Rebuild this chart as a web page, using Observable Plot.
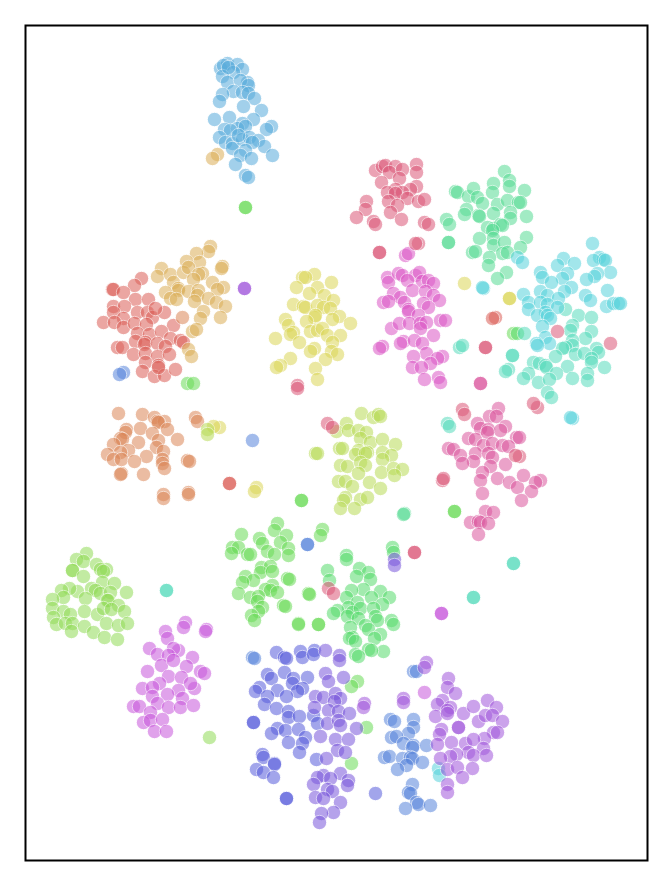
<!DOCTYPE html>
<html>
<head>
<meta charset="utf-8">
<style>html,body{margin:0;padding:0;background:#fff}svg{display:block}</style>
<script src="https://cdn.jsdelivr.net/npm/d3@7"></script>
<script src="https://cdn.jsdelivr.net/npm/@observablehq/plot@0.6"></script>
</head>
<body>
<div id="chart"></div>
<script>
const c00 = [[141,278],[134,285],[112,289],[113,289],[123,292],[135,299],[148,299],[113,306],[124,306],[113,312],[123,318],[103,322],[114,322],[123,327],[137,312],[147,312],[152,317],[164,312],[155,308],[134,323],[146,324],[173,325],[137,333],[149,334],[161,331],[135,341],[145,342],[144,344],[157,343],[170,338],[180,340],[183,342],[165,346],[117,347],[122,347],[133,354],[145,353],[157,356],[169,354],[145,362],[158,365],[142,371],[154,376],[164,375],[175,369],[158,367],[229,483],[229,483],[495,317],[492,318]];
const c01 = [[118,413],[142,414],[154,417],[164,421],[157,421],[158,422],[126,429],[125,432],[140,428],[167,429],[152,433],[120,438],[122,439],[138,442],[177,439],[158,440],[113,444],[156,447],[128,450],[120,452],[107,454],[163,451],[146,456],[113,459],[121,459],[134,461],[162,459],[162,463],[164,468],[187,460],[189,461],[121,473],[120,474],[143,474],[163,494],[163,498],[188,492],[188,494],[195,417],[197,421],[182,317]];
const c02 = [[210,246],[208,251],[196,253],[199,262],[186,261],[161,268],[157,276],[170,274],[183,272],[188,267],[222,266],[221,268],[202,273],[198,274],[193,279],[173,282],[212,282],[223,287],[217,289],[178,288],[178,290],[188,291],[198,290],[165,292],[170,298],[176,299],[197,295],[194,301],[208,298],[216,302],[225,306],[203,311],[200,318],[220,317],[192,331],[196,329],[188,349],[191,356],[217,154],[212,158]];
const c03 = [[314,274],[302,277],[305,277],[331,282],[296,287],[317,287],[309,293],[324,295],[333,300],[293,304],[303,306],[305,307],[317,305],[323,307],[330,308],[339,316],[314,317],[315,315],[306,321],[332,319],[350,323],[285,319],[288,325],[293,332],[290,334],[310,331],[317,330],[322,328],[327,335],[340,335],[275,338],[299,342],[332,342],[314,348],[310,351],[331,351],[337,354],[325,359],[290,358],[280,365],[276,367],[315,368],[317,379],[219,427],[213,426],[256,487],[254,491],[464,283],[509,298],[509,298]];
const c04 = [[361,413],[373,417],[378,414],[380,416],[346,423],[336,431],[348,430],[358,430],[366,432],[360,438],[370,442],[382,439],[395,444],[339,448],[342,448],[358,450],[355,454],[367,452],[365,453],[382,452],[391,455],[382,459],[340,465],[347,466],[360,462],[365,465],[358,473],[381,472],[393,468],[402,469],[394,475],[338,481],[345,481],[352,486],[369,482],[380,488],[345,497],[343,500],[360,499],[367,497],[340,508],[354,508],[315,453],[317,453],[207,429],[207,434]];
const c05 = [[86,553],[76,559],[83,561],[72,570],[72,570],[83,576],[96,564],[106,569],[100,569],[103,571],[102,582],[114,583],[126,592],[91,588],[95,590],[77,591],[69,588],[61,590],[63,597],[85,598],[100,593],[110,592],[108,600],[107,600],[118,605],[52,599],[52,608],[63,611],[84,611],[97,614],[103,608],[111,609],[124,611],[53,617],[70,614],[56,624],[65,623],[72,623],[71,631],[84,626],[106,623],[118,625],[127,623],[93,632],[104,637],[117,639],[209,737]];
const c06 = [[277,523],[274,530],[286,535],[322,529],[320,535],[241,534],[259,538],[262,543],[280,542],[232,547],[238,547],[231,553],[267,551],[288,548],[288,555],[274,554],[247,554],[250,554],[261,567],[270,566],[260,572],[272,571],[245,576],[253,580],[242,582],[287,578],[289,579],[272,585],[265,589],[270,590],[277,592],[238,593],[250,597],[258,596],[257,601],[262,607],[308,593],[309,594],[283,605],[285,606],[258,611],[251,615],[254,620],[298,623],[298,624],[318,624],[318,624],[245,207],[245,207],[301,500],[301,500],[454,511],[454,511],[187,383],[193,383],[513,333],[357,681],[351,686],[366,727],[351,763]];
const c07 = [[346,555],[346,559],[327,570],[329,580],[359,568],[368,572],[356,576],[370,579],[363,589],[351,590],[380,591],[389,597],[346,597],[371,597],[357,602],[382,604],[348,607],[337,610],[333,613],[352,612],[360,608],[373,608],[347,616],[358,618],[375,616],[377,620],[391,620],[393,624],[365,625],[350,627],[368,629],[380,634],[374,638],[352,637],[349,638],[355,641],[383,651],[368,649],[371,650],[355,654],[358,656],[392,547],[393,552],[517,333]];
const c08 = [[504,171],[509,180],[509,186],[493,183],[492,192],[524,190],[455,191],[457,192],[468,196],[473,188],[477,197],[482,203],[497,204],[507,200],[518,202],[520,202],[466,209],[464,214],[478,215],[479,216],[493,213],[510,212],[510,218],[526,216],[446,219],[449,224],[487,227],[493,228],[500,224],[502,225],[492,230],[479,238],[493,238],[493,245],[504,242],[526,237],[520,247],[448,242],[448,242],[472,252],[475,251],[502,253],[507,252],[489,257],[488,265],[506,272],[497,278],[404,513],[403,514]];
const c09 = [[565,309],[578,315],[591,317],[572,325],[570,330],[591,331],[585,338],[572,340],[572,345],[565,347],[562,348],[596,348],[598,352],[555,356],[575,354],[584,353],[591,358],[591,362],[604,367],[567,366],[533,362],[539,363],[545,365],[546,367],[556,373],[528,373],[523,378],[538,382],[549,379],[572,378],[587,373],[587,380],[547,392],[551,397],[512,355],[512,355],[508,369],[505,371],[524,333],[459,347],[462,345],[447,423],[449,426],[166,590],[166,590],[513,563],[513,563],[473,597],[473,597]];
const c10 = [[592,243],[599,257],[603,259],[593,260],[605,260],[610,272],[597,273],[594,276],[586,279],[607,290],[585,295],[590,300],[606,306],[613,303],[618,303],[620,303],[563,258],[574,263],[557,265],[540,272],[542,277],[567,273],[562,278],[551,282],[571,287],[564,291],[540,291],[523,294],[547,295],[558,298],[528,302],[540,302],[528,309],[547,304],[557,307],[545,312],[537,315],[547,315],[550,318],[542,326],[545,337],[549,343],[536,343],[537,345],[517,257],[522,262],[483,288],[482,287],[572,418],[570,417],[438,768],[439,775]];
const c11 = [[220,68],[227,63],[237,64],[223,65],[242,69],[233,72],[222,76],[227,82],[247,82],[240,80],[248,85],[233,91],[242,92],[248,93],[254,98],[222,94],[219,101],[243,106],[261,110],[214,119],[229,117],[253,119],[242,123],[271,126],[266,129],[224,129],[237,128],[245,126],[230,130],[219,137],[225,142],[232,143],[232,148],[242,139],[249,137],[258,140],[264,146],[252,142],[245,150],[240,155],[251,158],[272,155],[235,164],[245,175],[248,177],[238,135],[228,67]];
const c12 = [[413,671],[416,671],[390,719],[394,721],[413,719],[413,727],[408,733],[391,737],[396,736],[403,743],[413,745],[412,747],[426,745],[384,757],[389,756],[402,758],[410,757],[412,758],[422,762],[406,765],[397,769],[412,784],[408,792],[410,793],[416,802],[418,804],[405,808],[430,805],[252,440],[307,544],[307,544],[252,657],[254,658],[123,372],[119,374]];
const c13 = [[276,652],[284,657],[286,658],[300,651],[302,657],[314,650],[313,654],[267,674],[271,678],[284,672],[293,678],[292,683],[307,677],[259,687],[255,691],[277,690],[302,688],[297,691],[267,696],[286,696],[264,704],[276,708],[288,711],[288,717],[299,716],[313,715],[253,722],[253,722],[277,728],[271,733],[285,730],[298,729],[305,737],[288,742],[302,743],[299,752],[262,754],[263,757],[274,763],[274,764],[256,769],[263,772],[273,777],[316,759],[286,798],[286,798],[375,793],[317,723]];
const c14 = [[325,650],[339,655],[339,660],[325,673],[343,677],[328,681],[315,696],[323,697],[335,693],[340,698],[334,701],[314,707],[328,710],[338,711],[349,713],[327,723],[338,720],[340,725],[356,728],[320,736],[335,739],[348,739],[337,750],[345,752],[326,758],[340,773],[323,775],[317,777],[330,778],[313,784],[348,780],[347,785],[327,789],[332,791],[315,797],[323,798],[340,802],[333,812],[321,813],[319,822],[394,559],[394,565]];
const c15 = [[426,662],[424,667],[448,678],[447,687],[455,693],[403,698],[403,702],[442,700],[437,704],[450,707],[447,710],[435,716],[447,713],[463,713],[473,706],[487,700],[496,707],[478,721],[485,715],[492,715],[502,721],[458,727],[458,727],[441,729],[439,734],[493,732],[497,732],[484,738],[437,744],[451,742],[465,743],[473,739],[483,748],[468,752],[473,755],[486,755],[456,754],[450,756],[440,758],[447,769],[457,767],[472,768],[462,777],[447,784],[447,792],[364,703],[363,707],[244,288],[244,288]];
const c16 = [[185,622],[183,627],[206,629],[205,631],[165,631],[167,638],[149,648],[157,654],[178,650],[173,648],[168,655],[192,657],[161,665],[173,660],[186,666],[200,671],[204,673],[147,671],[168,676],[181,677],[159,683],[142,688],[194,688],[190,683],[178,690],[152,687],[152,696],[167,694],[182,698],[133,706],[139,706],[157,703],[168,707],[180,707],[193,705],[150,712],[143,722],[150,720],[162,719],[154,731],[166,731],[424,692],[441,613],[441,613]];
const c17 = [[405,255],[408,253],[387,277],[388,282],[398,273],[402,275],[415,275],[419,272],[407,280],[422,281],[428,280],[433,283],[393,293],[412,290],[425,291],[433,295],[439,300],[400,297],[404,302],[383,302],[388,301],[423,303],[428,307],[408,309],[408,311],[418,315],[440,320],[445,320],[391,328],[399,323],[409,323],[420,323],[426,322],[420,328],[433,335],[403,341],[400,343],[414,340],[422,343],[382,346],[379,348],[426,353],[413,356],[442,356],[437,358],[430,363],[412,367],[421,367],[438,377],[440,382],[424,379]];
const c18 = [[498,408],[489,416],[496,416],[477,423],[505,426],[480,428],[488,429],[500,430],[468,438],[475,439],[487,432],[516,437],[519,437],[448,448],[453,449],[460,455],[483,445],[492,443],[502,445],[508,446],[475,453],[488,453],[492,457],[473,461],[462,463],[490,466],[505,464],[482,472],[480,480],[497,478],[509,482],[517,487],[523,475],[540,480],[535,482],[531,491],[521,500],[482,493],[485,511],[493,512],[470,522],[478,521],[480,522],[488,523],[478,534],[480,383],[480,383]];
const c19 = [[375,170],[382,166],[385,165],[395,166],[389,172],[402,169],[416,164],[416,172],[399,178],[381,182],[416,186],[410,189],[395,189],[387,192],[402,192],[395,193],[407,198],[388,201],[397,205],[418,201],[424,199],[366,201],[365,209],[356,217],[390,212],[401,219],[373,221],[375,224],[424,222],[428,224],[418,243],[415,243],[379,252],[379,252],[327,423],[332,427],[462,409],[464,414],[537,407],[533,403],[442,480],[443,478],[519,456],[515,455],[414,552],[414,552],[328,588],[333,593],[557,331],[610,343],[485,347],[485,347],[297,385],[297,388]];

const clusters = [c00,c01,c02,c03,c04,c05,c06,c07,c08,c09,c10,c11,c12,c13,c14,c15,c16,c17,c18,c19];
const clusterNames = clusters.map((_, i) => "c" + i);
const clusterColors = ["#db5f57","#db8657","#dbae57","#dbd657","#b9db57","#91db57","#69db57","#57db6c","#57db94","#57dbbc","#57d3db","#57abdb","#5784db","#575cdb","#7957db","#a157db","#c857db","#db57c6","#db579e","#db5777"];

const rows = clusters.flatMap((pts, i) => pts.map(([x, y]) => ({x, y, cluster: clusterNames[i]})));

const chart = Plot.plot({
  width: 664,
  height: 877,
  marginLeft: 25,
  marginRight: 17,
  marginTop: 25,
  marginBottom: 17,
  x: {domain: [25, 647], axis: null},
  y: {domain: [860, 25], axis: null},
  color: {domain: clusterNames, range: clusterColors},
  marks: [
    Plot.dot(rows, {x: "x", y: "y", r: 7.2, fill: "cluster", stroke: "white", strokeWidth: 0.9, opacity: 0.55}),
    Plot.frame({stroke: "black", strokeWidth: 2})
  ]
});
document.getElementById("chart").appendChild(chart);
</script>
</body>
</html>
